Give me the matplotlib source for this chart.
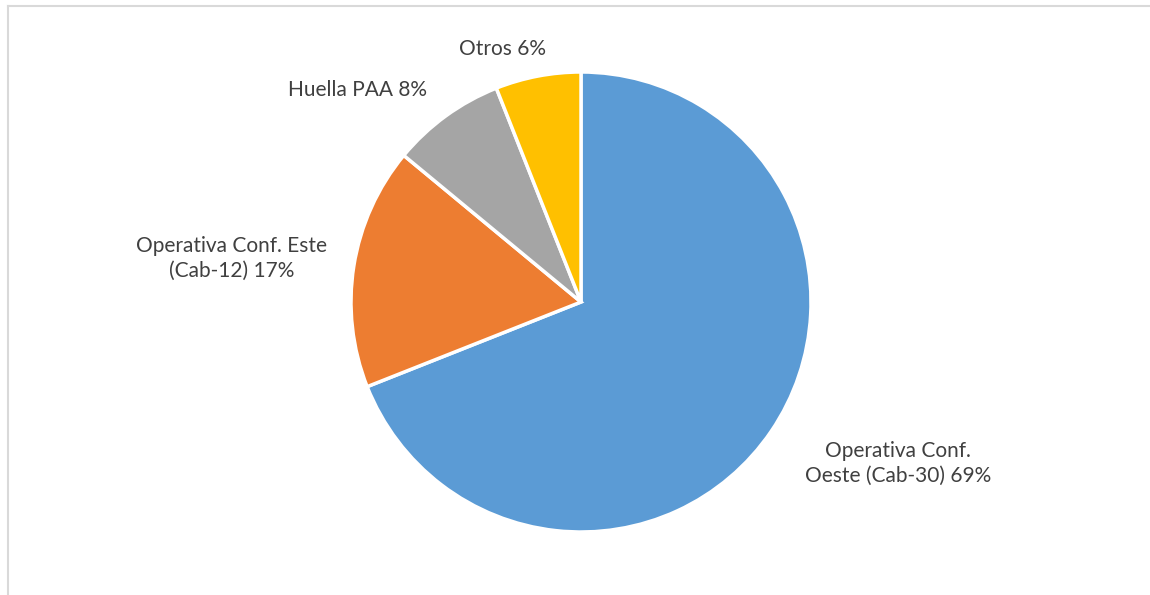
import matplotlib.pyplot as plt
from matplotlib.lines import Line2D

categories = ["Operativa Conf.\nOeste (Cab-30)", "Operativa Conf. Este\n(Cab-12)",
              "Huella PAA", "Otros"]
shares = [69, 17, 8, 6]
colors = ["#5b9bd5", "#ed7d31", "#a5a5a5", "#ffc000"]

# label anchor points, in units of the pie radius
label_pos = [(1.38, -0.70), (-1.52, 0.19), (-0.97, 0.92), (-0.34, 1.10)]

W, H = 1150, 595
fig = plt.figure(figsize=(W / 100, H / 100), dpi=100)

# thin chart-area frame (top and left edges only fall inside the image)
fig.add_artist(Line2D([7.5 / W, 7.5 / W], [0, 1 - 5.5 / H], color="#d9d9d9", lw=1.5))
fig.add_artist(Line2D([7.5 / W, 1], [1 - 5.5 / H, 1 - 5.5 / H], color="#d9d9d9", lw=1.5))

cx, cy, r = 581, 302, 230
ax = fig.add_axes([(cx - r) / W, (H - cy - r) / H, 2 * r / W, 2 * r / H])
ax.pie(shares, colors=colors, startangle=90, counterclock=False,
       wedgeprops=dict(edgecolor="white", linewidth=2.5))
ax.set_xlim(-1, 1)
ax.set_ylim(-1, 1)
ax.set_aspect("equal")

for cat, val, (x, y) in zip(categories, shares, label_pos):
    ax.text(x, y, f"{cat} {val}%", ha="center", va="center", fontsize=15,
            family="Lato", color="#404040", linespacing=1.3, clip_on=False)

fig.savefig("out.png", dpi=100, facecolor="white")
